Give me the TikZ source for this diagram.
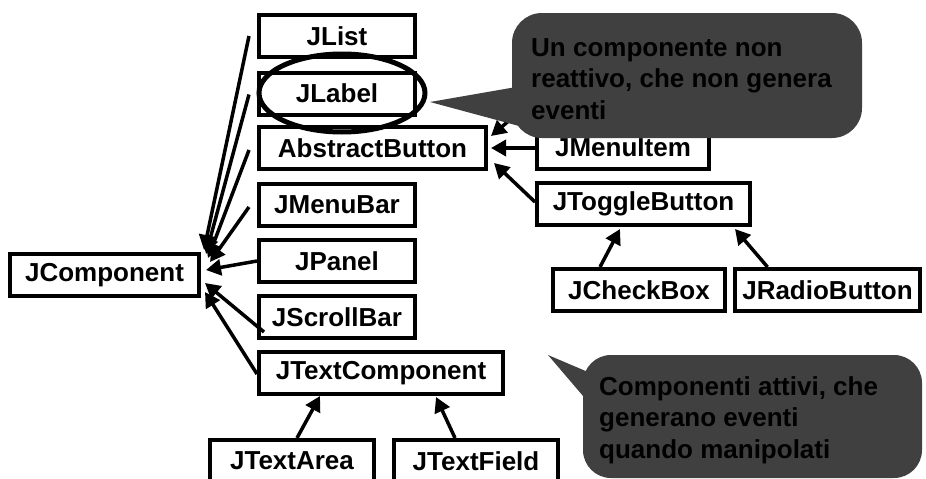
\documentclass[tikz,border=0pt]{standalone}
\usepackage{fontspec}
\setmainfont{Liberation Sans}
\usetikzlibrary{arrows.meta,shapes.geometric}
\definecolor{callgray}{RGB}{64,64,64}
\begin{document}
\begin{tikzpicture}[x=1pt,y=-1pt,
  cls/.style={draw,line width=4pt,minimum height=42pt,inner sep=0pt,
    font=\fontsize{26}{31}\selectfont\bfseries},
  inh/.style={line width=3.5pt,-{Triangle[length=15pt,width=16pt]}},
  calltext/.style={align=left,inner sep=0pt,anchor=west,
    font=\fontsize{26}{31.5}\selectfont\bfseries,text=black}]
\useasboundingbox (0,0) rectangle (926,479);
\clip (0,0) rectangle (926,479);
\fill[white] (0,0) rectangle (926,479);
% classes
\node[cls,minimum width=156pt] (jlist) at (337,36) {JList};
\node[cls,minimum width=156pt] (jlabel) at (337,93.5) {JLabel};
\node[cls,minimum width=227pt] (abutton) at (372.5,148) {AbstractButton};
\node[cls,minimum width=156pt] (jmenubar) at (337,205) {JMenuBar};
\node[cls,minimum width=156pt] (jpanel) at (337,261) {JPanel};
\node[cls,minimum width=156pt] (jscroll) at (337,317) {JScrollBar};
\node[cls,minimum width=244pt] (jtextcomp) at (381,373) {JTextComponent};
\node[cls,minimum width=164pt] (jtextarea) at (292,461) {JTextArea};
\node[cls,minimum width=164pt] (jtextfield) at (476,461) {JTextField};
\node[cls,minimum width=189pt] (jcomp) at (104.5,275) {JComponent};
\node[cls,minimum width=172pt] (jmenuitem) at (623,148) {JMenuItem};
\node[cls,minimum width=213pt] (jtoggle) at (643.5,203.5) {JToggleButton};
\node[cls,minimum width=172pt] (jcheck) at (639,290) {JCheckBox};
\node[cls,minimum width=185pt] (jradio) at (827.5,290) {JRadioButton};
% arrow targets
\coordinate (t1) at (204,250);
\coordinate (t2) at (206,254);
\coordinate (t3) at (208,258);
\coordinate (t4) at (210,262);
\coordinate (t5) at (206,270);
\coordinate (t6) at (205,283);
\coordinate (t7) at (205,292);
\coordinate (hid) at (525,107);
% inheritance arrows
\draw[inh] ([xshift=-8pt]jlist.west) -- (t1);
\draw[inh] ([xshift=-8pt,yshift=-1pt]jlabel.west) -- (t2);
\draw[inh] ([xshift=-8pt,yshift=-2pt]abutton.west) -- (t3);
\draw[inh] ([xshift=-8pt,yshift=-2pt]jmenubar.west) -- (t4);
\draw[inh] (jpanel.west) -- (t5);
\draw[inh] ([xshift=7pt,yshift=8pt]jscroll.south west) -- (t6);
\draw[inh] ([yshift=-1pt]jtextcomp.west) -- (t7);
\draw[inh] (jmenuitem.west) -- ([xshift=3pt]abutton.east);
\draw[inh] ([yshift=1.5pt]jtoggle.west) -- (494,163);
\draw[inh] (hid) -- (491,136);
\draw[inh] ([xshift=-39pt]jcheck.north) -- (620,229);
\draw[inh] ([xshift=-60pt]jradio.north) -- (735,229);
\draw[inh] ([xshift=5pt]jtextarea.north) -- (320,396);
\draw[inh] ([xshift=-21pt]jtextfield.north) -- (436,397);
% ellipse around JLabel
\node[draw,ellipse,line width=5pt,minimum width=166pt,minimum height=78pt] (ell) at (342,93) {};
% callout 1
\fill[callgray] (430,102) -- (522,86) -- (545,133) -- cycle;
\fill[callgray,rounded corners=30pt] (512,13) rectangle (862,138);
\node[calltext] (c1) at (531,79) {Un componente non\\reattivo, che non genera\\eventi};
% callout 2
\fill[callgray] (548,355) -- (595,375) -- (595,410) -- cycle;
\fill[callgray,rounded corners=28pt] (583,355) rectangle (922,478);
\node[calltext] (c2) at (599,420) {Componenti attivi, che\\generano eventi\\quando manipolati};
\end{tikzpicture}
\end{document}
